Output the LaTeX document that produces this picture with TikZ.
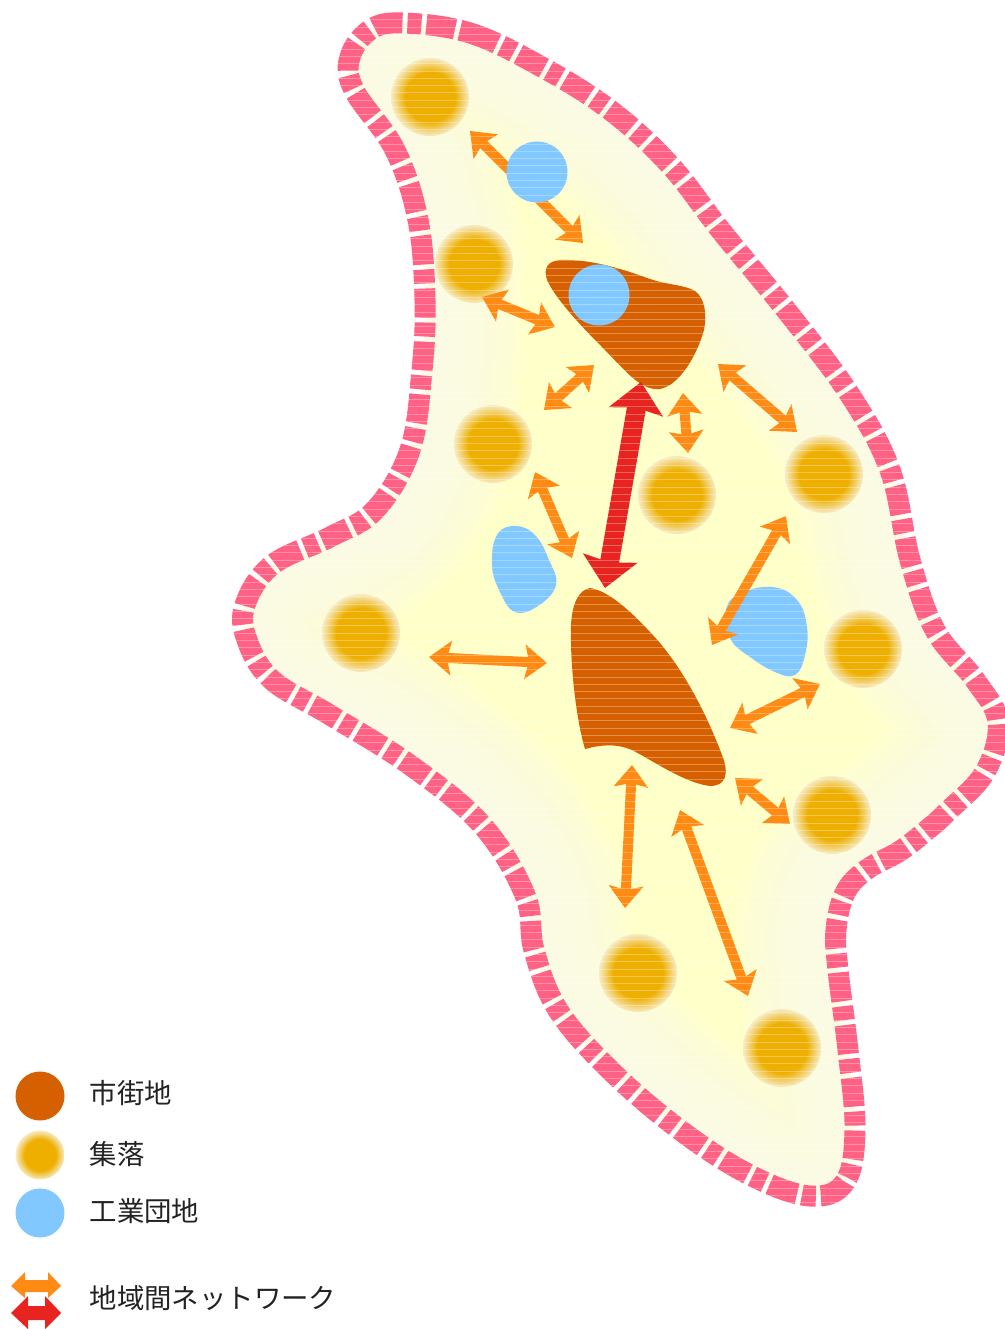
\documentclass[tikz,border=0pt]{standalone}
\usepackage{fontspec}
\setmainfont{Noto Sans CJK JP}
\usetikzlibrary{arrows.meta}
\definecolor{bandpink}{HTML}{FF6285}
\definecolor{regionedge}{HTML}{FBFBEE}
\definecolor{regionmid}{HTML}{FFFFC8}
\definecolor{netorange}{HTML}{FF8A14}
\definecolor{netred}{HTML}{E7241F}
\definecolor{urbanc}{HTML}{D66000}
\definecolor{settlec}{HTML}{EEAF00}
\definecolor{settlee}{HTML}{F7EBC4}
\definecolor{indust}{HTML}{80C8FF}
\definecolor{legendtext}{HTML}{222222}
\pgfdeclareradialshading{settlefade}{\pgfpoint{0bp}{0bp}}{color(0bp)=(settlec); color(16bp)=(settlec); color(25bp)=(settlee); color(50bp)=(settlee)}
\def\regionpath{plot[smooth cycle,tension=0.62] coordinates {
(402,23)(470,33)(540,66)(610,110)(670,165)(722,232)(790,315)(850,395)(890,470)(910,560)(935,630)(975,680)(998,722)(985,772)(947,812)(927,830)(900,851)(866,870)(845,893)(836,930)(838,970)(848,1050)(855,1130)(845,1182)(810,1196)(750,1175)(680,1130)(610,1070)(558,1010)(534,950)(525,895)(482,825)(410,765)(330,715)(272,680)(247,640)(245,605)(272,565)(330,537)(375,510)(410,450)(422,370)(425,300)(418,220)(395,150)(354,90)(350,57)(370,30)}}
\tikzset{
  x=1bp,y=-1bp,
  band/.style={draw=bandpink,line width=21bp,dash pattern=on 29bp off 5bp on 14bp off 5bp},
  settlement/.style={circle,minimum size=78bp,inner sep=0pt,shading=settlefade},
  urbanarea/.style={fill=urbanc},
  estate/.style={fill=indust},
  estatedot/.style={circle,fill=indust,minimum size=61bp,inner sep=0pt},
  netlink/.style={netorange,line width=10bp,{Stealth[length=22bp,width=34bp,inset=4bp]}-{Stealth[length=22bp,width=34bp,inset=4bp]}},
  mainlink/.style={netred,line width=19bp,{Stealth[length=30bp,width=54bp,inset=4bp]}-{Stealth[length=30bp,width=54bp,inset=4bp]}},
  legendlabel/.style={anchor=west,inner sep=0pt,text=legendtext,font=\fontsize{27.4bp}{27.4bp}\selectfont},
  legenddot/.style={circle,minimum size=49bp,inner sep=0pt},
  scan/.style={white,opacity=.3,line width=1bp}
}
\begin{document}
\begin{tikzpicture}
\useasboundingbox (0,0) rectangle (1004,1329);
% region
\begin{scope}
  \clip \regionpath;
  \fill[regionmid] (0,0) rectangle (1004,1329);
  \foreach \w in {20,40,...,200}{
    \draw[regionedge,opacity=.16,line width=\w bp] \regionpath;
  }
\end{scope}
\draw[band] \regionpath;
% urban areas
\fill[urbanarea] (560,260) .. controls (590,259) and (620,268) .. (650,279) .. controls (668,285) and (685,285) .. (695,291) .. controls (705,298) and (707,315) .. (704,330) .. controls (697,355) and (680,385) .. (660,389) .. controls (640,391) and (625,370) .. (600,345) .. controls (580,325) and (555,298) .. (547,280) .. controls (543,268) and (548,261) .. (560,260) -- cycle;
\fill[urbanarea] (590,588) .. controls (605,590) and (625,605) .. (650,632) .. controls (682,665) and (707,715) .. (722,755) .. controls (730,775) and (725,786) .. (710,786) .. controls (685,783) and (655,762) .. (632,750) .. controls (615,743) and (600,745) .. (585,749) .. controls (575,715) and (570,660) .. (571,625) .. controls (572,605) and (578,590) .. (590,588) -- cycle;
% estates under the network
\fill[estate] plot[smooth cycle,tension=0.7] coordinates {(515,526)(535,535)(549,560)(556,585)(538,606)(515,612)(500,592)(492,565)(497,535)};
\fill[estate] plot[smooth cycle,tension=0.7] coordinates {(772,587)(797,600)(807,627)(805,655)(795,675)(775,672)(750,657)(731,640)(725,615)(737,595)};
% settlements
\node[settlement] (s1) at (430,97) {};
\node[settlement] (s2) at (474,264) {};
\node[settlement] (s3) at (493,444) {};
\node[settlement] (s4) at (677,495) {};
\node[settlement] (s5) at (824,474) {};
\node[settlement] (s6) at (361,633) {};
\node[settlement] (s7) at (863,649) {};
\node[settlement] (s8) at (832,815) {};
\node[settlement] (s9) at (638,973) {};
\node[settlement] (s10) at (782,1048) {};
% network
\coordinate (a1) at (470,131); \coordinate (b1) at (583,243);
\coordinate (a2) at (482,297); \coordinate (b2) at (555,327);
\coordinate (a3) at (594,365); \coordinate (b3) at (544,410);
\coordinate (a4) at (718,364); \coordinate (b4) at (797,432);
\coordinate (a5) at (683,393); \coordinate (b5) at (688,453);
\coordinate (a7) at (535,472); \coordinate (b7) at (572,558);
\coordinate (a8) at (786,516); \coordinate (b8) at (712,645);
\coordinate (a9) at (429,657); \coordinate (b9) at (547,663);
\coordinate (a10) at (820,684); \coordinate (b10) at (730,728);
\coordinate (a11) at (735,778); \coordinate (b11) at (790,824);
\coordinate (a12) at (632,765); \coordinate (b12) at (625,908);
\coordinate (a13) at (680,810); \coordinate (b13) at (748,996);
\coordinate (am) at (641,382); \coordinate (bm) at (605,588);
\foreach \i in {1,2,3,4,5,7,8,9,10,11,12,13}{
  \draw[netlink] (a\i) -- (b\i);
}
\draw[mainlink] (am) -- (bm);
% estate discs on top
\node[estatedot] (e1) at (537,172) {};
\node[estatedot] (e2) at (599,295) {};
% scan lines
\foreach \y in {20,27.3,...,1210}{
  \draw[scan] (225,\y) -- (1004,\y);
}
% legend
\node[legenddot,fill=urbanc] (k1) at (40,1096) {};
\node[legenddot,shading=settlefade] (k2) at (40,1155) {};
\node[legenddot,fill=indust] (k3) at (40,1213) {};
\fill[netorange] (11,1286) -- (25,1272) -- (25,1280) -- (48,1280) -- (48,1272) -- (61,1286) -- (48,1298) -- (48,1292) -- (25,1292) -- (25,1298) -- cycle;
\fill[white] (28,1294) rectangle (45,1306);
\fill[netred] (11,1313) -- (28,1296) -- (28,1306) -- (45,1306) -- (45,1296) -- (61,1313) -- (45,1329) -- (45,1320) -- (28,1320) -- (28,1329) -- cycle;
\node[legendlabel] (t1) at (89.5,1093) {市街地};
\node[legendlabel] (t2) at (89.5,1154) {集落};
\node[legendlabel] (t3) at (89.5,1211) {工業団地};
\node[legendlabel] (t4) at (89.5,1298) {地域間ネットワーク};
\end{tikzpicture}
\end{document}
